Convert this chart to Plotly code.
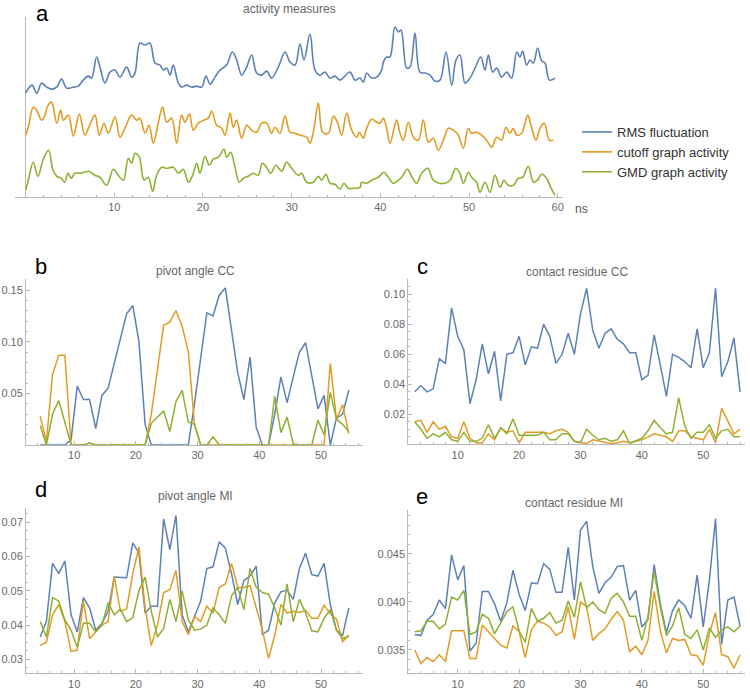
import plotly.graph_objects as go

W, H = 750, 692
BLUE = "#5e81b5"
ORANGE = "#e19c24"
GREEN = "#8fb032"
AXIS = "#b8b8b8"
TICKTXT = "#6a6a6a"
FONT = "Liberation Sans, Arial, sans-serif"

# ---------------- panel a: activity measures (time in ns, arbitrary offset units) -------------
a_rms_t = [0, 0.71, 1.26, 1.8, 2.37, 2.93, 3.5, 4.06, 4.62, 5.38,
           5.94, 6.5, 7.07, 7.44, 8.0, 8.38, 8.95, 9.51, 10.08, 10.64,
           11.39, 11.95, 12.33, 12.89, 13.46, 14.02, 14.59, 15.15, 15.53, 15.9,
           16.28, 16.65, 17.22, 17.59, 18.16, 18.72, 19.29, 19.85, 20.34, 20.79,
           21.35, 21.92, 22.67, 23.31, 23.8, 24.36, 24.92, 25.49, 26.05, 26.62,
           27.18, 27.74, 28.5, 29.25, 29.81, 30.38, 30.94, 31.39, 32.07, 32.63,
           33.2, 33.76, 34.32, 34.89, 35.45, 36.58, 37.14, 37.71, 38.08, 38.46,
           39.02, 39.59, 40.15, 40.34, 40.71, 41.09, 41.65, 42.03, 42.33, 42.97,
           43.35, 43.91, 44.47, 45.04, 45.6, 46.17, 46.73, 47.41, 48.05, 48.53,
           48.98, 49.55, 50.11, 50.68, 51.32, 51.8, 52.18, 52.67, 53.12, 53.68,
           54.25, 54.81, 55.38, 55.75, 56.05, 56.5, 56.88, 57.26, 57.74, 58.2,
           58.57, 59.06, 59.7]
a_rms_v = [107, 115, 107, 117, 113, 111, 113, 121, 112, 113,
           114, 120, 124, 122, 143, 133, 117, 128, 130, 123,
           133, 123, 127, 157, 155, 157, 137, 135, 130, 132,
           125, 135, 117, 113, 115, 113, 114, 113, 124, 116,
           123, 130, 135, 148, 140, 125, 133, 145, 127, 125,
           129, 122, 133, 148, 138, 135, 156, 140, 166, 130,
           125, 128, 122, 124, 120, 128, 120, 122, 118, 127,
           122, 123, 130, 138, 143, 143, 173, 168, 170, 132,
           133, 167, 128, 127, 125, 119, 120, 148, 115, 140,
           145, 117, 122, 132, 143, 130, 145, 128, 132, 123,
           128, 122, 148, 143, 149, 135, 140, 137, 152, 139,
           137, 120, 122]

a_cut_t = [0, 0.3, 0.86, 1.24, 1.8, 2.18, 2.48, 2.93, 3.5, 3.95,
           4.25, 4.81, 5.38, 6.05, 6.69, 7.26, 7.82, 8.31, 8.83, 9.32,
           10.08, 10.64, 11.2, 11.95, 12.52, 12.89, 13.46, 13.91, 14.4, 14.85,
           15.45, 15.9, 16.47, 17.03, 17.59, 17.97, 18.46, 18.91, 19.47, 20.11,
           20.6, 20.98, 21.54, 22.11, 22.48, 23.05, 23.42, 23.8, 24.36, 24.92,
           25.49, 26.05, 26.62, 27.18, 27.74, 28.12, 28.68, 29.25, 29.81, 30.38,
           30.94, 31.69, 32.07, 32.44, 33.01, 33.5, 34.14, 34.7, 35.15, 35.64,
           36.2, 36.77, 37.33, 37.63, 38.08, 38.46, 39.02, 39.59, 39.96, 40.34,
           40.71, 41.09, 41.84, 42.22, 42.59, 43.16, 43.72, 44.29, 44.85, 45.41,
           45.98, 46.54, 47.11, 47.67, 48.23, 48.8, 49.36, 49.92, 50.3, 50.86,
           51.43, 51.99, 52.56, 53.12, 53.68, 54.17, 54.62, 55.0, 55.38, 55.94,
           56.62, 57.07, 57.56, 58.01, 58.5, 59.06, 59.51]
a_cut_v = [65, 73, 93, 90, 80, 85, 94, 98, 77, 90,
           80, 85, 64, 86, 65, 76, 85, 65, 77, 67,
           83, 63, 72, 85, 80, 82, 67, 75, 57, 73,
           93, 78, 82, 57, 85, 78, 86, 70, 77, 80,
           82, 89, 75, 72, 65, 87, 73, 80, 62, 75,
           70, 68, 77, 77, 67, 73, 67, 84, 68, 67,
           65, 63, 57, 68, 97, 68, 67, 84, 78, 65,
           87, 70, 63, 68, 62, 72, 81, 78, 77, 82,
           72, 57, 80, 67, 60, 78, 63, 60, 80, 58,
           62, 50, 60, 72, 70, 65, 52, 72, 67, 68,
           65, 60, 53, 63, 60, 73, 67, 72, 65, 67,
           85, 72, 60, 72, 77, 60, 60]

a_gmd_t = [0, 0.3, 0.86, 1.39, 1.95, 2.59, 3.08, 3.53, 4.02, 4.4,
           4.77, 5.15, 5.53, 6.09, 6.65, 7.14, 7.78, 8.38, 9.14, 9.89,
           10.45, 11.02, 11.58, 11.95, 12.33, 12.82, 13.35, 13.83, 14.32, 14.77,
           15.34, 15.9, 16.65, 17.22, 17.78, 18.35, 18.83, 19.29, 19.66, 20.23,
           20.71, 21.17, 21.73, 22.37, 22.67, 23.12, 23.61, 24.1, 24.55, 25.11,
           25.68, 26.24, 26.69, 27.18, 27.63, 28.23, 28.87, 29.44, 30.0, 30.75,
           31.13, 31.69, 32.44, 33.01, 33.38, 33.87, 34.32, 34.89, 35.45, 35.9,
           36.39, 36.95, 37.71, 37.89, 38.46, 39.02, 39.77, 40.41, 40.9, 41.47,
           42.03, 42.41, 43.05, 43.53, 44.1, 44.66, 45.34, 45.98, 46.65, 47.29,
           47.86, 48.5, 48.98, 49.36, 49.92, 50.3, 50.86, 51.24, 51.8, 52.37,
           52.93, 53.5, 53.95, 54.44, 55.0, 55.56, 56.05, 56.69, 57.26, 57.71,
           58.2, 58.76, 59.21, 59.7]
a_gmd_v = [10, 20, 38, 24, 40, 50, 30, 24, 22, 18,
           27, 22, 27, 27, 28, 29, 25, 23, 15, 31,
           25, 20, 42, 37, 47, 43, 20, 23, 9, 25,
           33, 32, 33, 27, 31, 18, 25, 37, 27, 44,
           35, 41, 43, 51, 43, 48, 33, 18, 22, 24,
           27, 25, 37, 33, 27, 35, 29, 38, 32, 25,
           27, 18, 18, 24, 20, 26, 17, 16, 11, 17,
           12, 12, 13, 18, 17, 20, 23, 28, 23, 17,
           20, 23, 31, 24, 17, 27, 32, 20, 17, 17,
           20, 32, 27, 17, 28, 23, 18, 8, 18, 8,
           25, 13, 20, 15, 15, 22, 23, 34, 18, 20,
           26, 22, 13, 5]

# ---------------- panels b, d: pivot angle (window positions) ----------------
pivot_x = [4.5, 5.5, 6.5, 7.5, 8.5, 9.5, 10.5, 11.5, 12.5, 13.5,
           14.5, 15.5, 16.5, 17.5, 18.5, 19.5, 20.5, 21.5, 22.5, 23.5,
           24.5, 25.5, 26.5, 27.5, 28.5, 29.5, 30.5, 31.5, 32.5, 33.5,
           34.5, 35.5, 36.5, 37.5, 38.5, 39.5, 40.5, 41.5, 42.5, 43.5,
           44.5, 45.5, 46.5, 47.5, 48.5, 49.5, 50.5, 51.5, 52.5, 53.5, 54.5]

b_rms = [0, 0, 0, 0, 0, 0.005, 0.057, 0.044, 0.044, 0.016,
         0.048, 0.055, 0.08, 0.103, 0.127, 0.135, 0.1, 0.02, 0, 0,
         0, 0, 0, 0, 0, 0.04, 0.085, 0.128, 0.125, 0.145,
         0.152, 0.11, 0.07, 0.044, 0.085, 0.017, 0, 0, 0.03, 0.066,
         0.041, 0.066, 0.09, 0.099, 0.067, 0.035, 0.048, 0, 0.026, 0.03, 0.053]
b_cut = [0.028, 0.003, 0.068, 0.087, 0.087, 0, 0, 0, 0.002, 0,
         0, 0, 0, 0, 0, 0, 0, 0, 0.03, 0.072,
         0.116, 0.119, 0.13, 0.115, 0.09, 0.02, 0, 0, 0, 0,
         0, 0, 0, 0, 0, 0, 0, 0, 0, 0,
         0, 0, 0, 0, 0, 0, 0, 0.079, 0.025, 0.039, 0.011]
b_gmd = [0.019, 0.0, 0.03, 0.043, 0.022, 0, 0, 0, 0.002, 0,
         0, 0, 0, 0, 0, 0, 0, 0, 0.021, 0.027,
         0.033, 0.013, 0.042, 0.053, 0.022, 0.02, 0, 0, 0.008, 0,
         0, 0, 0, 0, 0, 0, 0, 0, 0.047, 0.012,
         0.027, 0.001, 0, 0, 0, 0.024, 0.01, 0.051, 0.025, 0.02, 0.013]

d_rms = [0.0365, 0.041, 0.058, 0.055, 0.0587, 0.043, 0.038, 0.048, 0.045, 0.0385,
         0.0405, 0.044, 0.054, 0.054, 0.0538, 0.064, 0.061, 0.0435, 0.0455, 0.0455,
         0.071, 0.062, 0.072, 0.043, 0.038, 0.0425, 0.047, 0.0565, 0.057, 0.0643,
         0.0625, 0.055, 0.046, 0.053, 0.0543, 0.0572, 0.0373, 0.0385, 0.0465, 0.0497,
         0.0502, 0.0475, 0.0565, 0.061, 0.0547, 0.0543, 0.058, 0.046, 0.0385, 0.037, 0.045]
d_cut = [0.034, 0.035, 0.043, 0.046, 0.041, 0.0323, 0.0327, 0.047, 0.036, 0.038,
         0.04, 0.041, 0.0542, 0.044, 0.0447, 0.055, 0.0628, 0.045, 0.034, 0.04,
         0.0495, 0.0503, 0.056, 0.041, 0.0372, 0.0425, 0.041, 0.0455, 0.0435, 0.051,
         0.052, 0.058, 0.051, 0.051, 0.0515, 0.045, 0.0385, 0.0303, 0.037, 0.046,
         0.0435, 0.044, 0.0437, 0.0443, 0.042, 0.042, 0.0458, 0.0432, 0.0418, 0.0352, 0.037]
d_gmd = [0.041, 0.0365, 0.048, 0.047, 0.0415, 0.0385, 0.0335, 0.0405, 0.0405, 0.038,
         0.04, 0.0465, 0.043, 0.0447, 0.041, 0.0422, 0.05, 0.054, 0.044, 0.0365,
         0.039, 0.0475, 0.041, 0.05, 0.0415, 0.0385, 0.0388, 0.04, 0.045, 0.043,
         0.0405, 0.0485, 0.051, 0.0445, 0.0565, 0.051, 0.0495, 0.049, 0.045, 0.04,
         0.052, 0.041, 0.0475, 0.0435, 0.0383, 0.038, 0.042, 0.0445, 0.0385, 0.036, 0.0368]

# ---------------- panels c, e: contact residue ----------------
contact_x = [3, 4, 5, 6, 7, 8, 9, 10, 11, 12, 13, 14, 15, 16, 17, 18, 19, 20,
             21, 22, 23, 24, 25, 26, 27, 28, 29, 30, 31, 32, 33, 34, 35, 36, 37, 38,
             39, 40, 41, 42, 43, 44, 45, 46, 47, 48, 49, 50, 51, 52, 53, 54, 55, 56]

c_rms = [0.035, 0.039, 0.035, 0.037, 0.057, 0.054, 0.091, 0.072, 0.063, 0.027,
         0.043, 0.067, 0.047, 0.062, 0.029, 0.06, 0.061, 0.072, 0.053, 0.065,
         0.064, 0.08, 0.072, 0.054, 0.06, 0.074, 0.06, 0.087, 0.104, 0.076,
         0.064, 0.074, 0.077, 0.07, 0.067, 0.061, 0.061, 0.043, 0.046, 0.073,
         0.053, 0.032, 0.06, 0.058, 0.055, 0.051, 0.077, 0.051, 0.061, 0.104,
         0.045, 0.055, 0.071, 0.035]
c_cut = [0.015, 0.016, 0.008, 0.015, 0.01, 0.012, 0.005, 0.004, 0.015, 0.004,
         0.001, 0.001, 0.007, 0.003, 0.011, 0.008, 0.009, 0.001, 0.008, 0.008,
         0.008, 0.008, 0.007, 0.009, 0.010, 0.008, 0.002, 0.001, 0.0005, 0.003,
         0.002, 0.001, 0.0005, 0.001, 0.002, 0.001, 0.002, 0.003, 0.005, 0.007,
         0.006, 0.005, 0.002, 0.009, 0.009, 0.005, 0.004, 0.003, 0.01, 0.001,
         0.024, 0.015, 0.007, 0.01]
c_gmd = [0.015, 0.01, 0.004, 0.007, 0.005, 0.008, 0.003, 0.002, 0.008, 0.002,
         0.002, 0.004, 0.013, 0.004, 0.011, 0.007, 0.017, 0.006, 0.006, 0.006,
         0.006, 0.008, 0.003, 0.003, 0.007, 0.007, 0.002, 0.001, 0.01, 0.006,
         0.003, 0.004, 0.002, 0.003, 0.009, 0.0005, 0.002, 0.004, 0.009, 0.016,
         0.011, 0.007, 0.008, 0.031, 0.012, 0.004, 0.008, 0.008, 0.013, 0.004,
         0.009, 0.01, 0.005, 0.005]

e_rms = [0.0366, 0.0365, 0.0381, 0.0387, 0.0402, 0.0393, 0.0449, 0.0423, 0.0438, 0.0349,
         0.0357, 0.0411, 0.0411, 0.0398, 0.038, 0.0399, 0.0433, 0.0408, 0.0391, 0.042,
         0.0419, 0.044, 0.0434, 0.041, 0.041, 0.0457, 0.0402, 0.0475, 0.0484, 0.0437,
         0.0409, 0.042, 0.0426, 0.0437, 0.0438, 0.0402, 0.0412, 0.0374, 0.0382, 0.0439,
         0.0398, 0.0368, 0.0391, 0.0402, 0.0396, 0.0383, 0.0428, 0.0374, 0.0423, 0.0487,
         0.0356, 0.0402, 0.0405, 0.0375]
e_gmd = [0.0369, 0.037, 0.038, 0.038, 0.0372, 0.0377, 0.0405, 0.0402, 0.0412, 0.0366,
         0.0369, 0.0387, 0.0383, 0.0367, 0.0378, 0.039, 0.0395, 0.037, 0.0358, 0.0393,
         0.038, 0.0383, 0.0389, 0.0378, 0.0381, 0.0401, 0.0384, 0.0421, 0.0394, 0.04,
         0.0392, 0.0388, 0.0404, 0.0409, 0.04, 0.0385, 0.0385, 0.036, 0.0385, 0.0432,
         0.0395, 0.0365, 0.0375, 0.0394, 0.0366, 0.0362, 0.0371, 0.035, 0.0373, 0.0363,
         0.0371, 0.0374, 0.0369, 0.0375]
e_cut = [0.035, 0.0336, 0.0342, 0.0338, 0.0345, 0.0338, 0.037, 0.037, 0.037, 0.0341,
         0.0341, 0.0376, 0.0369, 0.0362, 0.0355, 0.0352, 0.0375, 0.0369, 0.0342, 0.0371,
         0.038, 0.0378, 0.0374, 0.0365, 0.0369, 0.0395, 0.0361, 0.04, 0.0395, 0.036,
         0.0367, 0.0372, 0.0382, 0.039, 0.0381, 0.0348, 0.0354, 0.0345, 0.036, 0.0411,
         0.037, 0.0347, 0.0362, 0.036, 0.0361, 0.0345, 0.0344, 0.0334, 0.0367, 0.0389,
         0.0345, 0.0343, 0.0331, 0.0345]

series_names = ["RMS fluctuation", "cutoff graph activity", "GMD graph activity"]
series_colors = [BLUE, ORANGE, GREEN]

x_ticks_a = [10, 20, 30, 40, 50, 60]
x_ticks_small = [10, 20, 30, 40, 50]
y_ticks_b = [0.05, 0.10, 0.15]
y_ticks_c = [0.02, 0.04, 0.06, 0.08, 0.10]
y_ticks_d = [0.03, 0.04, 0.05, 0.06, 0.07]
y_ticks_e = [0.035, 0.040, 0.045]

panel_titles = ["activity measures", "pivot angle CC", "contact residue CC",
                "pivot angle MI", "contact residue MI"]
panel_letters = ["a", "b", "c", "d", "e"]


def px_x(p):
    return p / W


def px_y(p):
    return 1 - p / H


fig = go.Figure()

# panel a traces (smooth)
for (t, v), name, col in zip([(a_rms_t, a_rms_v), (a_cut_t, a_cut_v), (a_gmd_t, a_gmd_v)],
                             series_names, series_colors):
    fig.add_trace(go.Scatter(x=t, y=v, mode="lines", name=name,
                             line=dict(color=col, width=1.6, shape="spline", smoothing=1.0),
                             xaxis="x", yaxis="y", showlegend=True, hoverinfo="skip"))

panels = [
    ("x2", "y2", pivot_x, [b_rms, b_cut, b_gmd]),
    ("x3", "y3", contact_x, [c_rms, c_cut, c_gmd]),
    ("x4", "y4", pivot_x, [d_rms, d_cut, d_gmd]),
    ("x5", "y5", contact_x, [e_rms, e_cut, e_gmd]),
]
for xa, ya, xs, ys_list in panels:
    for ys, name, col in zip(ys_list, series_names, series_colors):
        fig.add_trace(go.Scatter(x=xs, y=ys, mode="lines", name=name,
                                 line=dict(color=col, width=1.5),
                                 xaxis=xa, yaxis=ya, showlegend=False, hoverinfo="skip"))


def minor(dt):
    return dict(ticks="inside", ticklen=2, tickcolor=AXIS, dtick=dt, tick0=0, showgrid=False)


def axis_style(**kw):
    base = dict(showline=True, linecolor=AXIS, linewidth=1, ticks="inside",
                tickcolor=AXIS, ticklen=4, tickwidth=1, showgrid=False, zeroline=False,
                tickfont=dict(family=FONT, size=11, color=TICKTXT))
    base.update(kw)
    return base


# domains (pixel based)
xa_dom = [px_x(15), px_x(563)]
ya_dom = [px_y(197), px_y(17)]
xb_dom = [px_x(26), px_x(363)]
yb_dom = [px_y(445), px_y(279.3)]
xc_dom = [px_x(408.3), px_x(745)]
yc_dom = [px_y(444.3), px_y(279.3)]
yd_dom = [px_y(673.3), px_y(508.3)]
ye_dom = [px_y(673.3), px_y(510)]

fig.update_layout(
    width=W, height=H,
    margin=dict(l=0, r=0, t=0, b=0),
    paper_bgcolor="white", plot_bgcolor="white",
    font=dict(family=FONT, color="#444"),
    xaxis=axis_style(domain=xa_dom, range=[-1.2, 60.6], tickvals=x_ticks_a, minor=minor(2),
                     zeroline=True, zerolinecolor=AXIS, zerolinewidth=1, anchor="y"),
    yaxis=dict(domain=ya_dom, range=[3.3, 183], visible=False, anchor="x"),
    xaxis2=axis_style(domain=xb_dom, range=[2.2, 56.8], tickvals=x_ticks_small, anchor="y2", minor=minor(2)),
    yaxis2=axis_style(domain=yb_dom, range=[0, 0.1604], tickvals=y_ticks_b, tickformat=".2f",
                      anchor="x2", minor=minor(0.01)),
    xaxis3=axis_style(domain=xc_dom, range=[1.95, 56.8], tickvals=x_ticks_small, anchor="y3", minor=minor(2)),
    yaxis3=axis_style(domain=yc_dom, range=[0, 0.11], tickvals=y_ticks_c, tickformat=".2f",
                      anchor="x3", minor=minor(0.005)),
    xaxis4=axis_style(domain=xb_dom, range=[2.2, 56.8], tickvals=x_ticks_small, anchor="y4", minor=minor(2)),
    yaxis4=axis_style(domain=yd_dom, range=[0.0259, 0.0741], tickvals=y_ticks_d, tickformat=".2f",
                      anchor="x4", minor=minor(0.0025)),
    xaxis5=axis_style(domain=xc_dom, range=[1.95, 56.8], tickvals=x_ticks_small, anchor="y5", minor=minor(2)),
    yaxis5=axis_style(domain=ye_dom, range=[0.03257, 0.04958], tickvals=y_ticks_e, tickformat=".3f",
                      anchor="x5", minor=minor(0.001)),
    legend=dict(x=px_x(577), y=px_y(152), xanchor="left", yanchor="middle",
                font=dict(family=FONT, size=13, color="#333"), itemwidth=30,
                bgcolor="rgba(0,0,0,0)", tracegroupgap=0),
    showlegend=True,
)

annotations = []
title_pos = [(289, 9), (195, 271), (577, 272), (195, 496), (574, 503)]
for txt, (x, y) in zip(panel_titles, title_pos):
    annotations.append(dict(text=txt, x=px_x(x), y=px_y(y), xref="paper", yref="paper",
                            xanchor="center", yanchor="middle", showarrow=False,
                            font=dict(family=FONT, size=12, color="#666")))
letter_pos = [(42, 13), (41, 266), (422, 266), (41, 489), (422, 496)]
for txt, (x, y) in zip(panel_letters, letter_pos):
    annotations.append(dict(text=txt, x=px_x(x), y=px_y(y), xref="paper", yref="paper",
                            xanchor="center", yanchor="middle", showarrow=False, borderpad=0,
                            font=dict(family=FONT, size=22, color="black")))
annotations.append(dict(text="ns", x=px_x(581), y=px_y(209), xref="paper", yref="paper",
                        xanchor="center", yanchor="middle", showarrow=False,
                        font=dict(family=FONT, size=12, color="#555")))
fig.update_layout(annotations=annotations)

fig.write_html("out.html", config={"displayModeBar": False, "staticPlot": True},
               post_script="document.body.style.margin='0px';document.body.style.overflow='hidden';")
